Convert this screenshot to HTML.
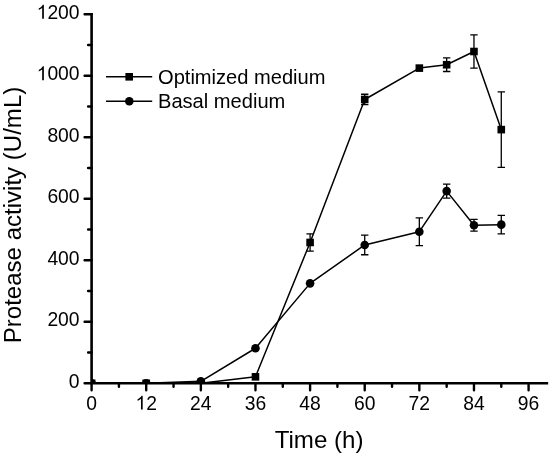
<!DOCTYPE html>
<html><head><meta charset="utf-8"><title>Protease activity</title>
<style>html,body{margin:0;padding:0;background:#fff;width:550px;height:455px;overflow:hidden}
svg{display:block;font-family:"Liberation Sans",sans-serif;will-change:transform}</style></head>
<body><svg width="550" height="455" viewBox="0 0 550 455" font-family="Liberation Sans, sans-serif" fill="#000"><defs><clipPath id="c"><rect x="91.6" y="0" width="458.4" height="383.3"/></clipPath></defs><g clip-path="url(#c)"><polyline points="91.6,383.3 146.22,383.3 200.85,383.3 255.47,376.84 310.1,242.47 364.72,99.48 419.34,68.11 446.66,64.73 473.97,51.51 501.28,129.61" fill="none" stroke="#000" stroke-width="1.5" stroke-linejoin="round"/><polyline points="91.6,383.3 146.22,383.3 200.85,381.3 255.47,348.25 310.1,283.36 364.72,244.93 419.34,231.7 446.66,191.11 473.97,225.25 501.28,224.63" fill="none" stroke="#000" stroke-width="1.5" stroke-linejoin="round"/><rect x="87.8" y="379.5" width="7.6" height="7.6"/><rect x="142.42" y="379.5" width="7.6" height="7.6"/><rect x="197.05" y="379.5" width="7.6" height="7.6"/><rect x="251.67" y="373.04" width="7.6" height="7.6"/><path d="M310.1 233.86V251.08M306.4 233.86h7.4M306.4 251.08h7.4" stroke="#000" stroke-width="1.3" fill="none"/><rect x="306.3" y="238.66" width="7.6" height="7.6"/><path d="M364.72 94.25V104.71M361.02 94.25h7.4M361.02 104.71h7.4" stroke="#000" stroke-width="1.3" fill="none"/><rect x="360.92" y="95.68" width="7.6" height="7.6"/><rect x="415.54" y="64.31" width="7.6" height="7.6"/><path d="M446.66 57.97V71.5M442.96 57.97h7.4M442.96 71.5h7.4" stroke="#000" stroke-width="1.3" fill="none"/><rect x="442.86" y="60.93" width="7.6" height="7.6"/><path d="M473.97 34.9V68.11M470.27 34.9h7.4M470.27 68.11h7.4" stroke="#000" stroke-width="1.3" fill="none"/><rect x="470.17" y="47.71" width="7.6" height="7.6"/><path d="M501.28 91.79V167.44M497.58 91.79h7.4M497.58 167.44h7.4" stroke="#000" stroke-width="1.3" fill="none"/><rect x="497.48" y="125.81" width="7.6" height="7.6"/><circle cx="91.6" cy="383.3" r="4.3"/><circle cx="146.22" cy="383.3" r="4.3"/><circle cx="200.85" cy="381.3" r="4.3"/><circle cx="255.47" cy="348.25" r="4.3"/><circle cx="310.1" cy="283.36" r="4.3"/><path d="M364.72 235.09V254.77M361.02 235.09h7.4M361.02 254.77h7.4" stroke="#000" stroke-width="1.3" fill="none"/><circle cx="364.72" cy="244.93" r="4.3"/><path d="M419.34 217.87V245.54M415.64 217.87h7.4M415.64 245.54h7.4" stroke="#000" stroke-width="1.3" fill="none"/><circle cx="419.34" cy="231.7" r="4.3"/><path d="M446.66 184.04V198.19M442.96 184.04h7.4M442.96 198.19h7.4" stroke="#000" stroke-width="1.3" fill="none"/><circle cx="446.66" cy="191.11" r="4.3"/><path d="M473.97 219.4V231.09M470.27 219.4h7.4M470.27 231.09h7.4" stroke="#000" stroke-width="1.3" fill="none"/><circle cx="473.97" cy="225.25" r="4.3"/><path d="M501.28 215.41V233.86M497.58 215.41h7.4M497.58 233.86h7.4" stroke="#000" stroke-width="1.3" fill="none"/><circle cx="501.28" cy="224.63" r="4.3"/></g><path d="M90.3 383.3H548.17M91.6 384.6V13.1" stroke="#000" stroke-width="2.6" fill="none"/><path d="M91.6 383.3V390.3M146.22 383.3V390.3M200.85 383.3V390.3M255.47 383.3V390.3M310.1 383.3V390.3M364.72 383.3V390.3M419.34 383.3V390.3M473.97 383.3V390.3M528.59 383.3V390.3M118.91 383.3V386.8M173.54 383.3V386.8M228.16 383.3V386.8M282.78 383.3V386.8M337.41 383.3V386.8M392.03 383.3V386.8M446.66 383.3V386.8M501.28 383.3V386.8M91.6 383.3H84.6M91.6 321.8H84.6M91.6 260.3H84.6M91.6 198.8H84.6M91.6 137.3H84.6M91.6 75.8H84.6M91.6 14.3H84.6M91.6 352.55H88.1M91.6 291.05H88.1M91.6 229.55H88.1M91.6 168.05H88.1M91.6 106.55H88.1M91.6 45.05H88.1" stroke="#000" stroke-width="2.4" stroke-linecap="round" fill="none"/><g font-size="19.3"><text x="68.87" y="387.7">0</text><text x="47.4" y="326.2">200</text><text x="47.4" y="264.7">400</text><text x="47.4" y="203.2">600</text><text x="47.4" y="141.7">800</text><path transform="translate(36.67 80.2) scale(0.009424 -0.009424)" d="M763 0H583V1147Q518 1085 412 1023Q307 961 223 930V1104Q374 1175 487 1276Q600 1377 647 1472H763Z"/><text x="47.4" y="80.2">000</text><path transform="translate(36.67 18.7) scale(0.009424 -0.009424)" d="M763 0H583V1147Q518 1085 412 1023Q307 961 223 930V1104Q374 1175 487 1276Q600 1377 647 1472H763Z"/><text x="47.4" y="18.7">200</text><text x="86.23" y="409.6">0</text><path transform="translate(135.49 409.6) scale(0.009424 -0.009424)" d="M763 0H583V1147Q518 1085 412 1023Q307 961 223 930V1104Q374 1175 487 1276Q600 1377 647 1472H763Z"/><text x="146.22" y="409.6">2</text><text x="190.11" y="409.6">24</text><text x="244.74" y="409.6">36</text><text x="299.36" y="409.6">48</text><text x="353.99" y="409.6">60</text><text x="408.61" y="409.6">72</text><text x="463.23" y="409.6">84</text><text x="517.86" y="409.6">96</text></g><text x="319.05" y="447.7" font-size="24.1" text-anchor="middle">Time (h)</text><text transform="translate(20.7 215) rotate(-90)" font-size="24.05" text-anchor="middle">Protease activity (U/mL)</text><path d="M106 76.8H152.2M106 101.3H152.2" stroke="#000" stroke-width="1.5"/><rect x="125.4" y="73" width="7.6" height="7.6"/><circle cx="129.3" cy="101.3" r="4.3"/><text x="158" y="83.7" font-size="20.1">Optimized medium</text><text x="158" y="107.8" font-size="20.1">Basal medium</text></svg></body></html>
